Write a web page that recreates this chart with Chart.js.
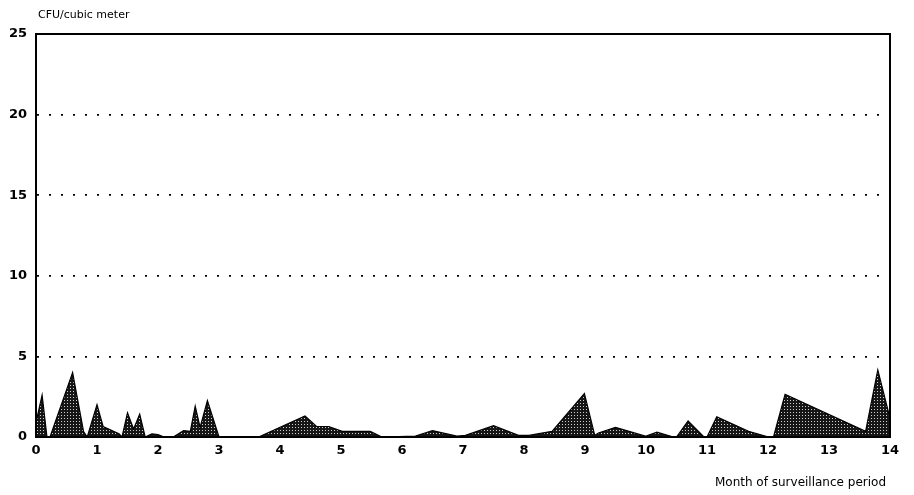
<!DOCTYPE html>
<html>
<head>
<meta charset="utf-8">
<script src="https://cdn.jsdelivr.net/npm/chart.js@4"></script>
<style>
  html, body { margin: 0; padding: 0; background: #fff; }
  #wrap { width: 914px; height: 495px; position: relative; }
</style>
</head>
<body>
<div id="wrap"><canvas id="areaChart"></canvas></div>
<script>
const months = [0, 0.1, 0.18, 0.23, 0.6, 0.78, 0.84, 1.0, 1.1, 1.36, 1.41, 1.5, 1.6, 1.7, 1.79,
  1.9, 2.0, 2.1, 2.25, 2.42, 2.53, 2.61, 2.69, 2.81, 3.0, 3.65, 4.41, 4.6, 4.8, 5.02, 5.48, 5.67,
  6.22, 6.5, 6.9, 7.04, 7.5, 7.91, 8.08, 8.46, 8.99, 9.16, 9.22, 9.5, 9.99, 10.18, 10.45, 10.5,
  10.69, 10.95, 11.0, 11.16, 11.68, 12.01, 12.09, 12.28, 13.6, 13.8, 13.98, 14];
const cfuValues = [0.9, 2.6, 0, 0, 4.0, 0.33, 0, 2.0, 0.65, 0.2, 0, 1.5, 0.5, 1.42, 0,
  0.2, 0.15, 0, 0, 0.4, 0.35, 1.92, 0.6, 2.25, 0, 0, 1.3, 0.65, 0.65, 0.35, 0.35, 0,
  0.05, 0.4, 0.05, 0.1, 0.7, 0.1, 0.1, 0.35, 2.7, 0.1, 0.25, 0.6, 0.05, 0.3, 0, 0,
  1.0, 0, 0, 1.26, 0.35, 0, 0, 2.65, 0.35, 4.16, 1.47, 1.5];
const yTicks = [0, 5, 10, 15, 20, 25];
const yTitle = 'CFU/cubic meter';
const xTitle = 'Month of surveillance period';

// Punktraster für die Fläche
function stipple() {
    const c = document.createElement('canvas');
    c.width = 3; c.height = 3;
    const g = c.getContext('2d');
    g.fillStyle = '#161616';
    g.fillRect(0, 0, 3, 3);
    g.fillStyle = '#d0d0d0';
    g.fillRect(1, 1, 1, 1);
    return g.createPattern(c, 'repeat');
}

const framePlugin = {
    id: 'frame',
    afterDraw(chart) {
        const ctx = chart.ctx;
        const a = chart.chartArea;
        ctx.save();
        ctx.strokeStyle = '#000';
        ctx.lineWidth = 2;
        ctx.strokeRect(a.left, a.top, a.right - a.left, a.bottom - a.top);
        ctx.fillStyle = '#000';
        ctx.textBaseline = 'alphabetic';
        ctx.font = '11px "DejaVu Sans"';
        ctx.textAlign = 'left';
        ctx.fillText(yTitle, 38, 18);
        ctx.font = '12px "DejaVu Sans"';
        ctx.textAlign = 'right';
        ctx.fillText(xTitle, 886, 486);
        ctx.restore();
    }
};

const points = months.map((m, i) => ({x: m, y: cfuValues[i]}));

new Chart(document.getElementById('areaChart'), {
    type: 'line',
    data: {
        datasets: [{
            data: points,
            fill: 'origin',
            backgroundColor: stipple(),
            borderColor: '#000',
            borderWidth: 1.2,
            pointRadius: 0,
            tension: 0
        }]
    },
    options: {
        responsive: true,
        maintainAspectRatio: false,
        animation: false,
        layout: { padding: { left: 0, top: 34, right: 24, bottom: 0 } },
        plugins: { legend: { display: false }, tooltip: { enabled: false } },
        scales: {
            x: {
                type: 'linear',
                min: 0,
                max: 14,
                afterFit(scale) { scale.height = 58; },
                ticks: {
                    stepSize: 1,
                    color: '#000',
                    padding: 6,
                    maxRotation: 0,
                    font: { family: 'DejaVu Sans', size: 13, weight: 'bold' }
                },
                grid: { display: false, drawTicks: false },
                border: { display: true, color: '#000', width: 2 }
            },
            y: {
                min: 0,
                max: 25,
                afterFit(scale) { scale.width = 36; },
                afterBuildTicks(scale) { scale.ticks = yTicks.map(v => ({value: v})); },
                ticks: {
                    color: '#000',
                    padding: 9,
                    font: { family: 'DejaVu Sans', size: 13, weight: 'bold' }
                },
                grid: {
                    drawTicks: false,
                    color: ctx => (ctx.tick.value === 0 || ctx.tick.value === 25) ? 'rgba(0,0,0,0)' : '#000',
                    lineWidth: 1.8
                },
                border: { display: true, color: '#000', width: 2, dash: [2, 10] }
            }
        }
    },
    plugins: [framePlugin]
});
</script>
</body>
</html>
